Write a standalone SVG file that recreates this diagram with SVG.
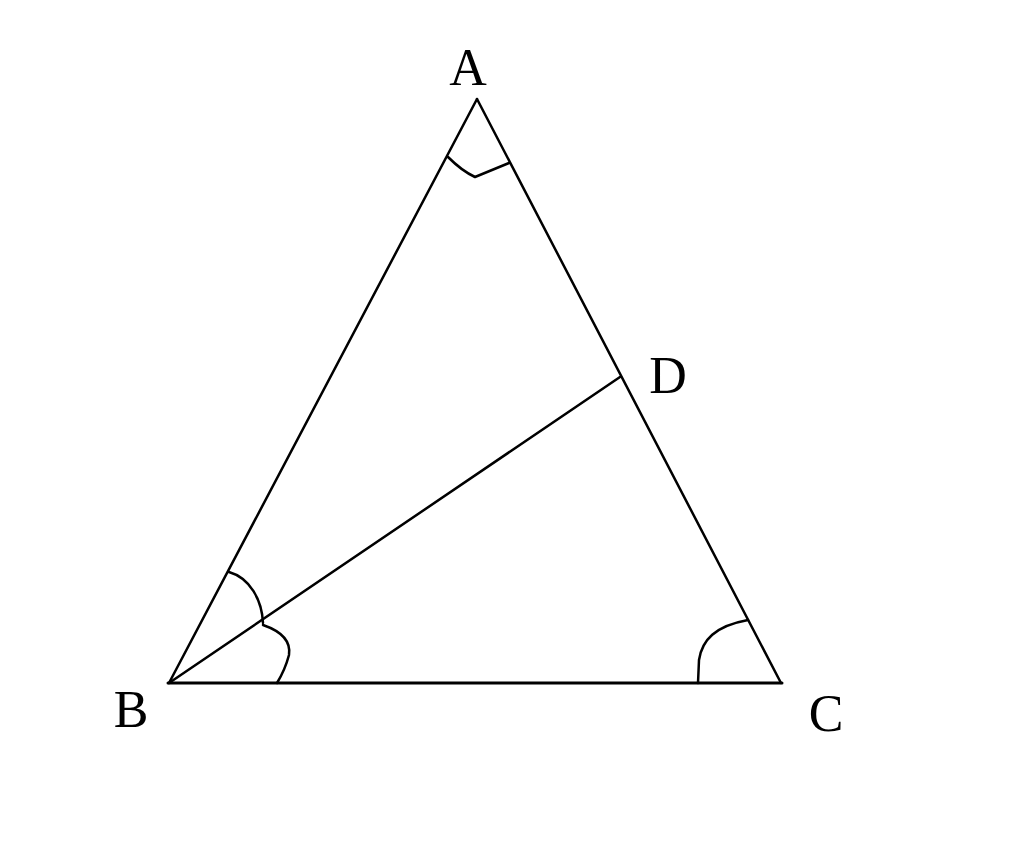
<svg xmlns="http://www.w3.org/2000/svg" width="1024" height="865" viewBox="0 0 1024 865">
<style>
.ln{stroke:#000;stroke-width:2.5;fill:none;stroke-linecap:round;stroke-linejoin:round}
.lb{font-family:"Liberation Serif","Times New Roman",serif;font-size:52px;fill:#000}
</style>
<rect width="1024" height="865" fill="#fff"/>
<g id="connectors">
<line class="ln" x1="477" y1="99" x2="169" y2="683"/>
<line class="ln" x1="477" y1="99" x2="781" y2="683"/>
<line class="ln" x1="168" y1="683" x2="782" y2="683" style="stroke-width:3"/>
<line class="ln" x1="169" y1="683" x2="620" y2="377"/>
</g>
<g id="angles">
<path class="ln" d="M448,157 Q462,171 475,177 Q492,170 509,163"/>
<path class="ln" d="M229,572 C250,578 262,600 263,623"/>
<path class="ln" d="M263,625 Q292,635 289,655 Q285,670 277,683"/>
<path class="ln" d="M698,683 L699,660 C702,640 715,626 748,620"/>
</g>
<g id="A"><text class="lb" x="468" y="85" text-anchor="middle">A</text></g>
<g id="B"><text class="lb" x="131" y="727" text-anchor="middle">B</text></g>
<g id="C"><text class="lb" x="826" y="731" text-anchor="middle">C</text></g>
<g id="D"><text class="lb" x="668" y="393" text-anchor="middle">D</text></g>
</svg>
